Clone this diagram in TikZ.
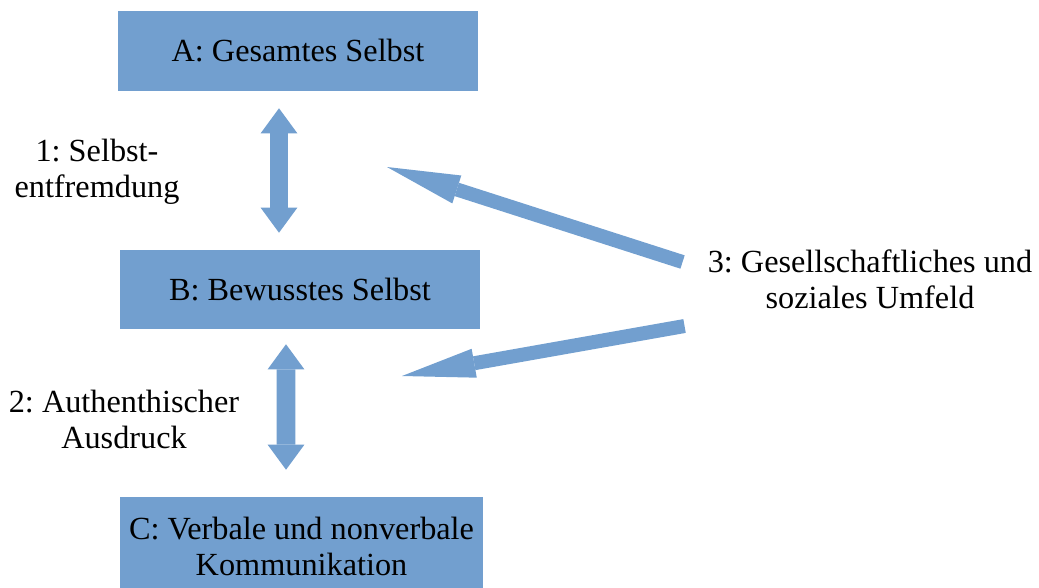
\documentclass[tikz,border=0pt]{standalone}
\usepackage{fontspec}
\setmainfont{Liberation Serif}
\usetikzlibrary{arrows.meta}
\definecolor{boxblue}{RGB}{114,159,207}
\frenchspacing

\begin{document}
\begin{tikzpicture}[x=0.75pt, y=-0.75pt,
  every node/.style={font=\fontsize{24.2}{27}\selectfont},
  box/.style={fill=boxblue, inner sep=0pt, align=center},
  lbl/.style={inner sep=0pt, align=center},
  dblarrow/.style={draw=boxblue, line width=14pt, >={Triangle[width=27.5pt,length=18.75pt,line width=0pt]}, <->},
  slantarrow/.style={draw=boxblue, line width=10.5pt, >={Triangle[width=22pt,length=55pt,line width=0pt]}, ->}]
  \useasboundingbox (0,0) rectangle (1039,587);
  \clip (0,0) rectangle (1039,587);
  % boxes
  \node[box, minimum width=270pt, minimum height=60pt] (A) at (298,51) {A: Gesamtes Selbst};
  \node[box, minimum width=270pt, minimum height=59.25pt] (B) at (300,289.5) {B: Bewusstes Selbst};
  \node[box, minimum width=272.25pt, minimum height=74.25pt] (C) at (301.5,546.5) {C: Verbale und nonverbale\\Kommunikation};
  % labels
  \node[lbl] (L1) at (97,172) {1: Selbst-\\entfremdung};
  \node[lbl] (L2) at (124,419) {2: Authenthischer\\Ausdruck};
  \node[lbl] (L3) at (870,279) {3: Gesellschaftliches und\\soziales Umfeld};
  \coordinate (tipA) at (387,167);
  \coordinate (tipB) at (402,376);
  % arrows
  \draw[dblarrow, shorten <=12.75pt, shorten >=12.75pt] ([xshift=-14.25pt]A.south) -- ([xshift=-15.75pt]B.north);
  \draw[dblarrow, shorten <=11.25pt, shorten >=20.25pt] ([xshift=-10.5pt]B.south) -- ([xshift=-11.6pt]C.north);
  \draw[slantarrow] ([shift={(-25,-17)}]L3.west) -- (tipA);
  \draw[slantarrow] ([shift={(-23,47)}]L3.west) -- (tipB);
\end{tikzpicture}
\end{document}
